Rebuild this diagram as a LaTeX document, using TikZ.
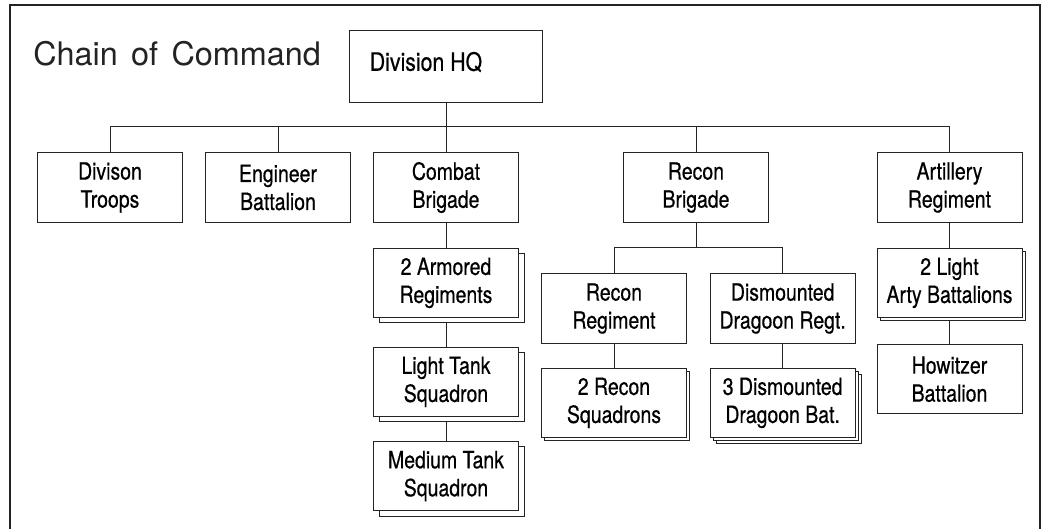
\documentclass[tikz,border=0pt]{standalone}
\usepackage{fontspec}
\setmainfont{TeX Gyre Heros}
\newfontfamily\unitfont[FakeStretch=0.82,FakeBold=0.5]{TeX Gyre Heros}
\newfontfamily\hqfont[FakeStretch=0.84,FakeBold=0.5]{TeX Gyre Heros}
\usetikzlibrary{positioning,shadows,backgrounds}
\definecolor{inkgray}{RGB}{35,35,35}

\begin{document}
\begin{tikzpicture}[x=0.75pt,y=-0.75pt,
					node distance=18.5pt,
					unit/.style={draw=inkgray,line width=0.75pt,fill=white,
							minimum width=108.75pt,minimum height=52pt,inner sep=2pt,
							font=\unitfont\fontsize{17.8}{21}\selectfont,align=center},
					stacked/.style={unit,copy shadow={draw=inkgray,fill=white,line width=0.75pt,
							shadow xshift=4.5pt,shadow yshift=-4pt}},
					thinstack/.style={unit,copy shadow={draw=inkgray,fill=white,line width=0.75pt,
							shadow xshift=2.4pt,shadow yshift=-2.4pt}},
					triplestack/.style={unit,
							copy shadow={draw=inkgray,fill=white,line width=0.75pt,
							shadow xshift=4.5pt,shadow yshift=-4.5pt},
							copy shadow={draw=inkgray,fill=white,line width=0.75pt,
							shadow xshift=2.25pt,shadow yshift=-2.25pt}},
					link/.style={draw=inkgray,line width=0.75pt}]
				\useasboundingbox (0,0) rectangle (1042,529);
				\draw[inkgray,line width=1pt] (10,529) -- (10,5) -- (1040,5) -- (1040,529);
				\node[anchor=base west,inner sep=0pt,text=inkgray,font=\fontsize{24.3}{28}\selectfont] (title) at (33,65)
				{Chain\hspace{10pt}of\hspace{10pt}Command};
				\node[unit,minimum width=144.75pt,minimum height=54pt,
					font=\hqfont\fontsize{19}{21}\selectfont] (hq) at (446,66)
				{\raisebox{7pt}{Division HQ}\hspace*{30pt}};
				% first level
				\node[unit] (troops)   at (110,187.5)   {Divison\\Troops};
				\node[unit] (eng)      at (278,187.5)   {Engineer\\Battalion};
				\node[unit] (combat)   at (446,187.5)   {Combat\\Brigade};
				\node[unit] (reconbde) at (696,187.5)   {Recon\\Brigade};
				\node[unit] (arty)     at (949.5,187.5) {Artillery\\Regiment};
				% combat brigade
				\node[stacked,below=18.75pt of combat]  (armored) {2 Armored\\Regiments};
				\node[stacked,below=21.5pt of armored]  (lighttank) {Light Tank\\Squadron};
				\node[stacked,below=18pt of lighttank]  (medtank) {Medium Tank\\Squadron};
				% recon brigade
				\node[unit] (reconreg) at (614,308.5) {Recon\\Regiment};
				\node[unit,right=17pt of reconreg] (dragreg) {Dismounted\\Dragoon Regt.};
				\node[thinstack,below=18pt of reconreg] (squadrons) {2 Recon\\Squadrons};
				\node[triplestack,below=18pt of dragreg] (dragbat) {3 Dismounted\\Dragoon Bat.};
				% artillery regiment
				\node[thinstack,below=18.75pt of arty] (lightarty) {2 Light\\Arty Battalions};
				\node[unit,below=19.5pt of lightarty] (howitzer) {Howitzer\\Battalion};
				\coordinate (bus)  at (0,126);
				\coordinate (rbus) at (0,247);
				\begin{scope}[on background layer]
					\draw[link] (hq.south) -- (hq.south |- bus);
					\draw[link] (troops.north) -- (troops.north |- bus) -- (arty.north |- bus) -- (arty.north);
					\foreach \n in {eng,combat,reconbde}
						\draw[link] (\n.north) -- (\n.north |- bus);
					\draw[link] (combat) -- (armored);
					\draw[link] (armored) -- (lighttank);
					\draw[link] (lighttank) -- (medtank);
					\draw[link] (reconbde.south) -- (reconbde.south |- rbus);
					\draw[link] (reconreg.north) -- (reconreg.north |- rbus) -- (dragreg.north |- rbus) -- (dragreg.north);
					\draw[link] (reconreg) -- (squadrons);
					\draw[link] (dragreg) -- (dragbat);
					\draw[link] (arty) -- (lightarty);
					\draw[link] (lightarty) -- (howitzer);
				\end{scope}
			\end{tikzpicture}
\end{document}
